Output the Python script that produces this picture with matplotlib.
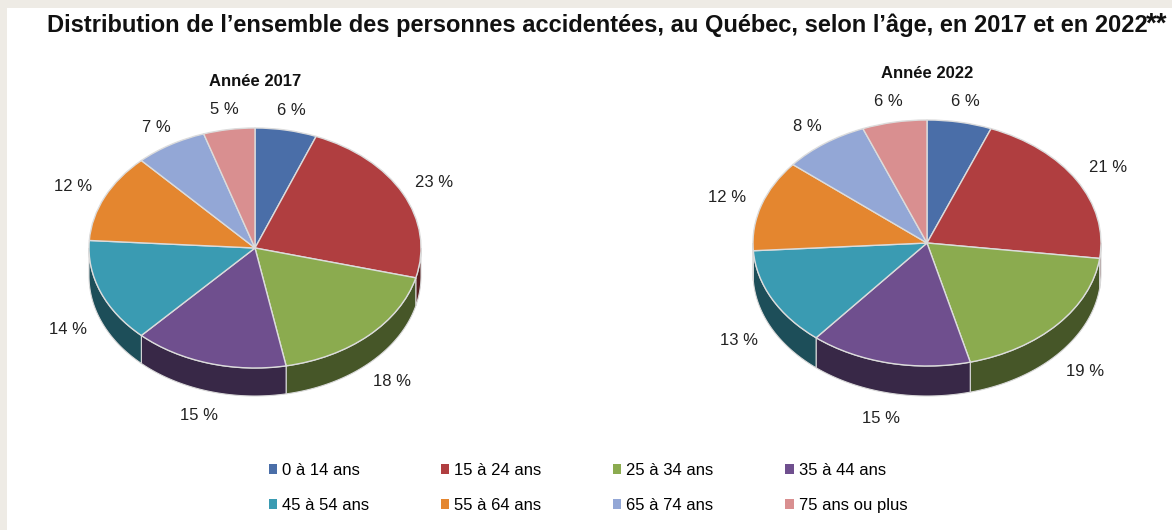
import numpy as np
import matplotlib.pyplot as plt
from matplotlib.patches import Polygon, Rectangle, Patch
from matplotlib.colors import to_rgb

plt.rcParams['font.family'] = ['Liberation Sans', 'DejaVu Sans']

ages = ["0 à 14 ans", "15 à 24 ans", "25 à 34 ans", "35 à 44 ans",
        "45 à 54 ans", "55 à 64 ans", "65 à 74 ans", "75 ans ou plus"]
pct_2017 = [6, 23, 18, 15, 14, 12, 7, 5]
pct_2022 = [6, 21, 19, 15, 13, 12, 8, 6]
colors = ["#4a6ea8", "#b03e40", "#8bab4f", "#6f4f8e",
          "#3a9bb2", "#e4862f", "#93a7d6", "#d98f90"]

W, H = 1172, 530
fig = plt.figure(figsize=(W / 100, H / 100), dpi=100, facecolor="#eeebe5")
fig.patches.append(Rectangle((7 / W, 0), 1, (H - 8) / H, transform=fig.transFigure,
                             facecolor="white", edgecolor="none", zorder=-5))


def pie3d(values, title, cx, cy, rx, ry, depth, title_y):
    x0, x1, y0, y1 = -1.6, 1.6, -1.75, 1.45
    left = cx + x0 * rx
    width = (x1 - x0) * rx
    top = cy - y1 * ry
    height = (y1 - y0) * ry
    ax = fig.add_axes([left / W, (H - top - height) / H, width / W, height / H])
    ax.patch.set_alpha(0)
    d = depth / ry
    bounds = np.concatenate([[0], np.cumsum(values)]) / sum(values)

    # side walls (only the front half is visible)
    for i, c in enumerate(colors):
        a0 = 90 - 360 * bounds[i]
        a1 = 90 - 360 * bounds[i + 1]
        lo, hi = max(a1, -180), min(a0, 0)
        if lo >= hi:
            continue
        t = np.radians(np.linspace(hi, lo, 60))
        xs = np.cos(t)
        ys = np.sin(t)
        pts = np.vstack([np.column_stack([xs, ys]),
                         np.column_stack([xs[::-1], ys[::-1] - d])])
        dark = tuple(np.array(to_rgb(c)) * 0.5)
        ax.add_patch(Polygon(pts, closed=True, facecolor=dark,
                             edgecolor="#d8d8d8", linewidth=0.8, zorder=1))

    wedges, _ = ax.pie(values, colors=colors, startangle=90, counterclock=False,
                       wedgeprops=dict(edgecolor="#dcdcdc", linewidth=1))
    for w in wedges:
        w.set_zorder(2)

    for i, v in enumerate(values):
        mid = np.radians(90 - 360 * (bounds[i] + bounds[i + 1]) / 2)
        s = np.sin(mid)
        r = 1.17 if s > 0.7 else 1.21
        lx = r * np.cos(mid)
        ly = r * s
        if s < 0:
            ly -= d
        ax.text(lx, ly, f"{v} %", ha="center", va="center", fontsize=12, color="#222222")

    ax.set_xlim(x0, x1)
    ax.set_ylim(y0, y1)
    ax.set_aspect("auto")
    ax.axis("off")
    fig.text(cx / W, 1 - title_y / H, title, ha="center", va="center",
             fontsize=12, fontweight="bold", color="#111111")


pie3d(pct_2017, "Année 2017", 255, 248, 166, 120, 28, 82)
pie3d(pct_2022, "Année 2022", 927, 243, 174, 123, 30, 73)

fig.text(597 / W, 1 - 25 / H,
         "Distribution de l’ensemble des personnes accidentées, au Québec, selon l’âge, en 2017 et en 2022",
         ha="center", va="center", fontsize=17, fontweight="bold", color="#111111")
fig.text(1157 / W, 1 - 25 / H, "**", ha="center", va="center",
         fontsize=20, fontweight="bold", color="#111111")

handles = [Patch(facecolor=c, edgecolor="none") for c in colors]
order = [0, 4, 1, 5, 2, 6, 3, 7]
fig.legend([handles[k] for k in order], [ages[k] for k in order], ncol=4,
           loc="center", bbox_to_anchor=(588 / W, 1 - 488 / H), frameon=False,
           fontsize=12, handlelength=0.5, handleheight=0.5, handletextpad=0.3,
           columnspacing=4.3, labelspacing=1.2)

fig.savefig("out.png", dpi=100, facecolor=fig.get_facecolor())
